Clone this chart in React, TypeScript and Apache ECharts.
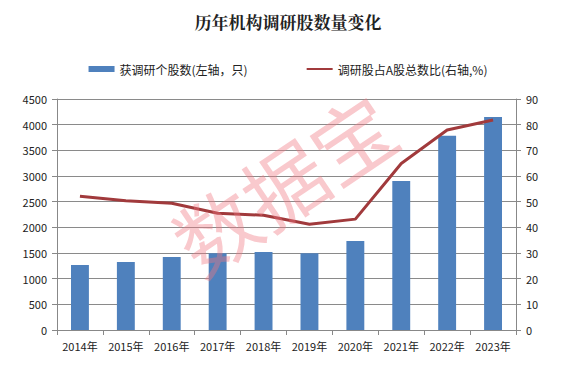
import React, { useEffect, useRef } from "react";
import * as echarts from "echarts";

const years = ["2014年", "2015年", "2016年", "2017年", "2018年", "2019年", "2020年", "2021年", "2022年", "2023年"];
const stockCounts = [1266, 1325, 1422, 1494, 1519, 1494, 1734, 2903, 3785, 4149];
const ratioPct = [52.1, 50.4, 49.4, 45.5, 44.7, 41.2, 43.2, 64.9, 77.9, 81.8];
const barName = "获调研个股数(左轴，只)";
const lineName = "调研股占A股总数比(右轴,%)";

export default function App() {
  const ref = useRef<HTMLDivElement>(null);
  useEffect(() => {
    if (!ref.current) return;
    const chart = echarts.init(ref.current, null, { renderer: "svg" });
    const axisFont = { color: "#222", fontSize: 11, fontFamily: "Noto Sans CJK SC" };
    chart.setOption({
      animation: false,
      backgroundColor: "#fff",
      title: {
        text: "历年机构调研股数量变化",
        left: "center",
        top: 8,
        textStyle: { fontSize: 17, fontWeight: "bold", color: "#222", fontFamily: "Noto Serif CJK SC, Noto Sans CJK SC" },
      },
      legend: {
        top: 58,
        left: "center",
        itemGap: 58,
        itemWidth: 26,
        itemHeight: 6,
        textStyle: { fontSize: 12, color: "#222", fontFamily: "Noto Sans CJK SC" },
        data: [
          { name: barName, icon: "rect" },
          { name: lineName, itemStyle: { opacity: 0 } },
        ],
      },
      grid: { left: 57, right: 60, top: 99, bottom: 42 },
      xAxis: {
        type: "category",
        data: years,
        axisLine: { lineStyle: { color: "#888" } },
        axisTick: { show: true, alignWithLabel: false, lineStyle: { color: "#888" } },
        axisLabel: { ...axisFont, margin: 10, interval: 0 },
      },
      yAxis: [
        {
          type: "value",
          min: 0,
          max: 4500,
          interval: 500,
          axisLine: { show: true, lineStyle: { color: "#888" } },
          axisTick: { show: true, lineStyle: { color: "#888" } },
          axisLabel: { ...axisFont, margin: 10, formatter: (v: number) => String(v) },
          splitLine: { lineStyle: { color: "#8a8a8a" } },
        },
        {
          type: "value",
          min: 0,
          max: 90,
          interval: 10,
          axisLine: { show: true, lineStyle: { color: "#888" } },
          axisTick: { show: true, lineStyle: { color: "#888" } },
          axisLabel: { ...axisFont, margin: 10 },
          splitLine: { show: false },
        },
      ],
      series: [
        {
          name: barName,
          type: "bar",
          data: stockCounts,
          barWidth: "39%",
          itemStyle: { color: "#4F81BD" },
        },
        {
          name: lineName,
          type: "line",
          yAxisIndex: 1,
          data: ratioPct,
          symbol: "none",
          lineStyle: { color: "#A13A3C", width: 3 },
          itemStyle: { color: "#A13A3C" },
        },
      ],
      graphic: [
        {
          type: "text",
          x: 283,
          y: 182,
          rotation: (34 * Math.PI) / 180,
          z: 100,
          style: {
            text: "数据宝",
            fontSize: 82,
            fontFamily: "Noto Sans CJK SC",
            fontWeight: "normal",
            fill: "rgba(240,120,130,0.4)",
            align: "center",
            verticalAlign: "middle",
          },
        },
      ],
    });
    return () => chart.dispose();
  }, []);
  return <div ref={ref} style={{ width: 576, height: 372, position: "absolute", left: 0, top: 0 }} />;
}
